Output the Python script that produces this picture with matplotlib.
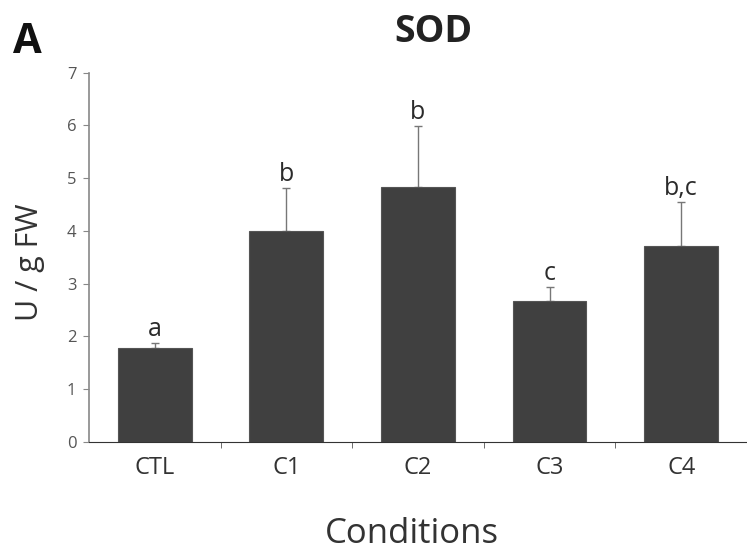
import matplotlib
matplotlib.use("Agg")
import matplotlib.pyplot as plt
import numpy as np

conditions = ["CTL", "C1", "C2", "C3", "C4"]
sod_values = [1.78, 3.99, 4.84, 2.67, 3.71]
sod_errors = [0.09, 0.83, 1.15, 0.27, 0.84]
letters = ["a", "b", "b", "c", "b,c"]

plt.rcParams["font.family"] = ["Open Sans", "DejaVu Sans"]

fig = plt.figure(figsize=(7.47, 5.51), dpi=100)
ax = fig.add_axes([0.119, 0.198, 0.881, 0.670])

x = np.arange(len(conditions))
ax.bar(x, sod_values, width=0.56, color="#404040", edgecolor="#555555", linewidth=0.8, zorder=2)
ax.errorbar(x, sod_values, yerr=[np.zeros(len(x)), sod_errors], fmt="none",
            ecolor="#777777", elinewidth=1.0, capsize=3, capthick=1.0, zorder=1)

# significance letters above the error caps
for xi, v, e, lab in zip(x, sod_values, sod_errors, letters):
    ax.text(xi, v + e + 0.13, lab, ha="center", va="baseline", fontsize=18, color="#2a2a2a")

ax.set_xlim(-0.5, 4.5)
ax.set_ylim(0, 7)
ax.set_yticks(range(0, 8))
ax.tick_params(axis="y", direction="out", length=4, colors="#888888", labelcolor="#555555", labelsize=12, pad=5)

ax.set_xticks(x)
ax.set_xticklabels(conditions, fontsize=17, color="#333333")
ax.tick_params(axis="x", which="major", length=0, pad=10)
ax.set_xticks(np.arange(0.5, 5, 1), minor=True)
ax.tick_params(axis="x", which="minor", direction="out", length=4, color="#555555")

ax.spines["top"].set_visible(False)
ax.spines["right"].set_visible(False)
ax.spines["left"].set_color("#888888")
ax.spines["left"].set_linewidth(1.2)
ax.spines["bottom"].set_color("#333333")

ax.set_ylabel("U / g FW", fontsize=22, color="#333333")
ax.yaxis.label.set_va("baseline")
ax.yaxis.set_label_coords(-0.078, 0.486)
ax.set_xlabel("Conditions", fontsize=25, color="#333333")
ax.xaxis.label.set_va("baseline")
ax.xaxis.set_label_coords(0.491, -0.273)

fig.text(433 / 747, 1 - 42 / 551, "SOD", ha="center", va="baseline", fontsize=27, fontweight="bold", color="#222222")
fig.text(27.5 / 747, 1 - 53 / 551, "A", ha="center", va="baseline", fontsize=30, fontweight="bold", color="#111111")

fig.savefig("out.png", dpi=100)
